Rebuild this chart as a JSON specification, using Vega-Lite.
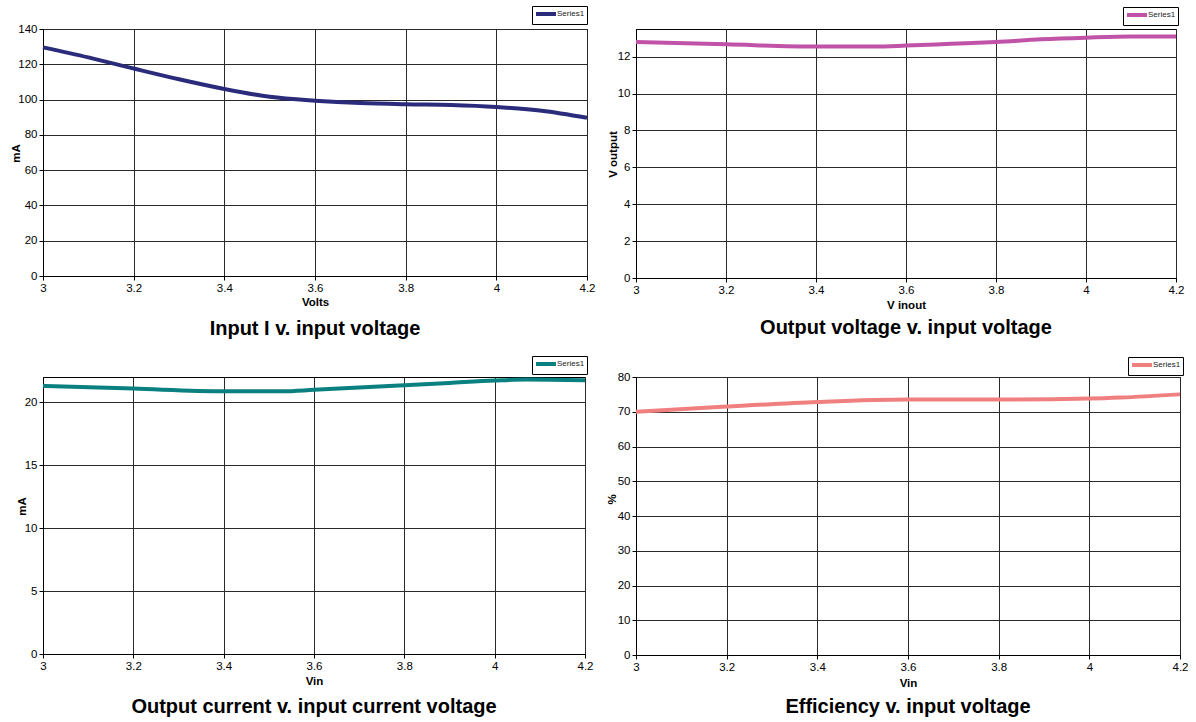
{
  "$schema": "https://vega.github.io/schema/vega-lite/v6.json",
  "background": "white",
  "padding": {"left": 9, "top": 5, "right": 0, "bottom": 0},
  "bounds": "flush",
  "columns": 2,
  "spacing": {"column": 49, "row": 99},
  "config": {
    "font": "Liberation Sans",
    "view": {"stroke": "black", "strokeWidth": 1},
    "axis": {
      "grid": true,
      "gridColor": "#2a2a2a",
      "gridWidth": 1,
      "gridOpacity": 1,
      "domainColor": "black",
      "tickColor": "black",
      "tickSize": 4,
      "labelFont": "Liberation Sans",
      "labelFontSize": 11.5,
      "labelColor": "black",
      "labelPadding": 2,
      "labelFlush": false,
      "labelOverlap": false,
      "titleFont": "Liberation Sans",
      "titleFontSize": 11.5,
      "titleFontWeight": "bold",
      "titleColor": "black"
    },
    "legend": {
      "symbolType": "M-1,0H4",
      "symbolStrokeWidth": 4,
      "symbolSize": 64,
      "labelFont": "Liberation Sans",
      "labelFontSize": 8,
      "labelColor": "#222222",
      "labelOffset": 11,
      "strokeColor": "black",
      "padding": 2,
      "rowPadding": 0
    },
    "title": {
      "orient": "bottom",
      "anchor": "middle",
      "font": "Liberation Sans",
      "fontSize": 20,
      "fontWeight": "bold",
      "color": "black"
    }
  },
  "datasets": {
    "iin": [
      {"v": 3.0, "val": 129.6, "series": "Series1"},
      {"v": 3.1, "val": 123.9, "series": "Series1"},
      {"v": 3.2, "val": 117.6, "series": "Series1"},
      {"v": 3.3, "val": 111.5, "series": "Series1"},
      {"v": 3.4, "val": 106.0, "series": "Series1"},
      {"v": 3.5, "val": 101.6, "series": "Series1"},
      {"v": 3.6, "val": 99.4, "series": "Series1"},
      {"v": 3.7, "val": 98.0, "series": "Series1"},
      {"v": 3.8, "val": 97.3, "series": "Series1"},
      {"v": 3.9, "val": 96.9, "series": "Series1"},
      {"v": 4.0, "val": 95.8, "series": "Series1"},
      {"v": 4.1, "val": 93.7, "series": "Series1"},
      {"v": 4.2, "val": 89.7, "series": "Series1"}
    ],
    "vout": [
      {"v": 3.0, "val": 12.8, "series": "Series1"},
      {"v": 3.2, "val": 12.67, "series": "Series1"},
      {"v": 3.4, "val": 12.55, "series": "Series1"},
      {"v": 3.53, "val": 12.55, "series": "Series1"},
      {"v": 3.6, "val": 12.6, "series": "Series1"},
      {"v": 3.7, "val": 12.7, "series": "Series1"},
      {"v": 3.8, "val": 12.8, "series": "Series1"},
      {"v": 3.9, "val": 12.94, "series": "Series1"},
      {"v": 4.0, "val": 13.03, "series": "Series1"},
      {"v": 4.1, "val": 13.09, "series": "Series1"},
      {"v": 4.2, "val": 13.09, "series": "Series1"}
    ],
    "iout": [
      {"v": 3.0, "val": 21.3, "series": "Series1"},
      {"v": 3.2, "val": 21.08, "series": "Series1"},
      {"v": 3.4, "val": 20.87, "series": "Series1"},
      {"v": 3.53, "val": 20.87, "series": "Series1"},
      {"v": 3.6, "val": 20.98, "series": "Series1"},
      {"v": 3.8, "val": 21.34, "series": "Series1"},
      {"v": 3.9, "val": 21.53, "series": "Series1"},
      {"v": 4.0, "val": 21.72, "series": "Series1"},
      {"v": 4.07, "val": 21.8, "series": "Series1"},
      {"v": 4.2, "val": 21.74, "series": "Series1"}
    ],
    "eff": [
      {"v": 3.0, "val": 70.0, "series": "Series1"},
      {"v": 3.2, "val": 71.5, "series": "Series1"},
      {"v": 3.4, "val": 72.8, "series": "Series1"},
      {"v": 3.6, "val": 73.5, "series": "Series1"},
      {"v": 3.8, "val": 73.5, "series": "Series1"},
      {"v": 4.0, "val": 73.8, "series": "Series1"},
      {"v": 4.07, "val": 74.1, "series": "Series1"},
      {"v": 4.2, "val": 75.0, "series": "Series1"}
    ]
  },
  "concat": [
    {
      "data": {"name": "iin"},
      "width": 544,
      "height": 247,
      "title": {"text": "Input I v. input voltage", "offset": 11},
      "mark": {"type": "line", "interpolate": "monotone", "strokeWidth": 4},
      "encoding": {
        "x": {"field": "v", "type": "quantitative",
          "scale": {"domain": [3, 4.2], "nice": false, "zero": false},
          "axis": {"title": "Volts", "values": [3, 3.2, 3.4, 3.6, 3.8, 4, 4.2], "format": ".2~f", "titleY": 29, "titleBaseline": "alphabetic"}},
        "y": {"field": "val", "type": "quantitative",
          "scale": {"domain": [0, 140], "nice": false},
          "axis": {"title": "mA", "values": [0, 20, 40, 60, 80, 100, 120, 140], "format": "d", "titleX": -24, "titleY": 124, "titleAngle": 270, "titleAlign": "center", "titleBaseline": "alphabetic"}},
        "color": {"field": "series", "type": "nominal",
          "scale": {"range": ["#2b2b7c"]},
          "legend": {"title": null, "orient": "none", "legendX": 489, "legendY": -23}}
      }
    },
    {
      "data": {"name": "vout"},
      "width": 540,
      "height": 249,
      "title": {"text": "Output voltage v. input voltage", "offset": 7},
      "mark": {"type": "line", "interpolate": "monotone", "strokeWidth": 4},
      "encoding": {
        "x": {"field": "v", "type": "quantitative",
          "scale": {"domain": [3, 4.2], "nice": false, "zero": false},
          "axis": {"title": "V inout", "values": [3, 3.2, 3.4, 3.6, 3.8, 4, 4.2], "format": ".2~f", "titleY": 30, "titleBaseline": "alphabetic"}},
        "y": {"field": "val", "type": "quantitative",
          "scale": {"domain": [0, 13.5], "nice": false},
          "axis": {"title": "V output", "values": [0, 2, 4, 6, 8, 10, 12], "format": "d", "titleX": -20, "titleY": 125, "titleAngle": 270, "titleAlign": "center", "titleBaseline": "alphabetic"}},
        "color": {"field": "series", "type": "nominal",
          "scale": {"range": ["#c052a8"]},
          "legend": {"title": null, "orient": "none", "legendX": 487, "legendY": -22}}
      }
    },
    {
      "data": {"name": "iout"},
      "width": 542,
      "height": 277,
      "title": {"text": "Output current v. input current voltage", "offset": 10},
      "mark": {"type": "line", "interpolate": "monotone", "strokeWidth": 4},
      "encoding": {
        "x": {"field": "v", "type": "quantitative",
          "scale": {"domain": [3, 4.2], "nice": false, "zero": false},
          "axis": {"title": "Vin", "values": [3, 3.2, 3.4, 3.6, 3.8, 4, 4.2], "format": ".2~f", "titleY": 30, "titleBaseline": "alphabetic"}},
        "y": {"field": "val", "type": "quantitative",
          "scale": {"domain": [0, 22], "nice": false},
          "axis": {"title": "mA", "values": [0, 5, 10, 15, 20], "format": "d", "titleX": -18, "titleY": 129, "titleAngle": 270, "titleAlign": "center", "titleBaseline": "alphabetic"}},
        "color": {"field": "series", "type": "nominal",
          "scale": {"range": ["#0b8080"]},
          "legend": {"title": null, "orient": "none", "legendX": 489, "legendY": -21}}
      }
    },
    {
      "data": {"name": "eff"},
      "width": 544,
      "height": 278,
      "title": {"text": "Efficiency v. input voltage", "offset": 8},
      "mark": {"type": "line", "interpolate": "monotone", "strokeWidth": 4},
      "encoding": {
        "x": {"field": "v", "type": "quantitative",
          "scale": {"domain": [3, 4.2], "nice": false, "zero": false},
          "axis": {"title": "Vin", "values": [3, 3.2, 3.4, 3.6, 3.8, 4, 4.2], "format": ".2~f", "titleY": 31, "titleBaseline": "alphabetic"}},
        "y": {"field": "val", "type": "quantitative",
          "scale": {"domain": [0, 80], "nice": false},
          "axis": {"title": "%", "values": [0, 10, 20, 30, 40, 50, 60, 70, 80], "format": "d", "titleX": -21, "titleY": 122, "titleAngle": 270, "titleAlign": "center", "titleBaseline": "alphabetic"}},
        "color": {"field": "series", "type": "nominal",
          "scale": {"range": ["#f08080"]},
          "legend": {"title": null, "orient": "none", "legendX": 492, "legendY": -20}}
      }
    }
  ],
  "resolve": {"scale": {"color": "independent"}, "legend": {"color": "independent"}}
}
